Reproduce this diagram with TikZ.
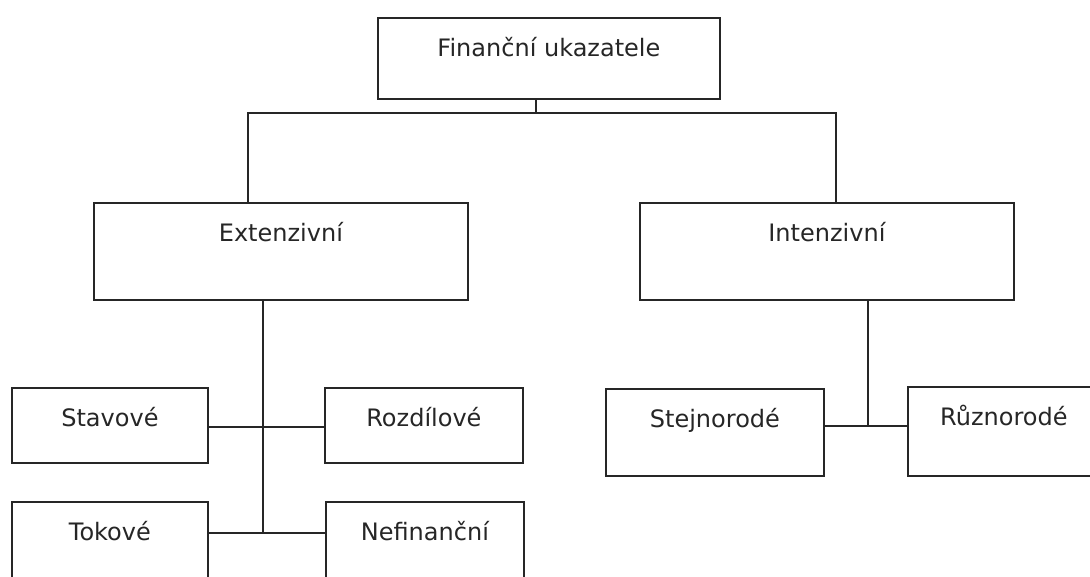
\documentclass[tikz,border=0pt]{standalone}
\usepackage{fontspec}
\setmainfont{DejaVu Sans}

\tikzset{
    box/.style={draw=black!85, line width=1.8pt, anchor=north west, inner sep=0pt,
        text height=39pt, text=black!85, font=\fontsize{24pt}{28pt}\selectfont},
    conn/.style={draw=black!85, line width=1.8pt}
}

\begin{document}
\begin{tikzpicture}[x=1pt, y=1pt]
    \useasboundingbox (0,0) rectangle (1090,-576);
    \clip (0,0) rectangle (1090,-576);

    % Boxes
    \node[box, minimum width=342pt, text depth=42pt] (top) at (377,-17) {Finanční ukazatele};
    \node[box, minimum width=374pt, text depth=58pt] (ext) at (93,-202) {Extenzivní};
    \node[box, minimum width=374pt, text depth=58pt] (int) at (639,-202) {Intenzivní};
    \node[box, minimum width=196pt, text depth=36pt] (stav) at (11,-387) {Stavové};
    \node[box, minimum width=198pt, text depth=36pt] (rozd) at (324,-387) {Rozdílové};
    \node[box, minimum width=196pt, text depth=51pt] (tok) at (11,-501) {Tokové};
    \node[box, minimum width=198pt, text depth=51pt] (nef) at (325,-501) {Nefinanční};
    \node[box, minimum width=218pt, text depth=48pt] (stej) at (605,-388) {Stejnorodé};
    \node[box, minimum width=192pt, text depth=50pt] (ruz) at (907,-386) {Různorodé};

    % Junctions
    \coordinate (j1) at (536,-113);
    \coordinate (j2) at (263,-427);
    \coordinate (j3) at (263,-533);
    \coordinate (j4) at (868,-426);

    % Connectors
    \draw[conn] (top.south -| j1) -- (j1);
    \draw[conn] ([xshift=-33pt]ext.north) |- (j1) -| ([xshift=9pt]int.north);
    \draw[conn] (ext.south -| j2) -- (j3);
    \draw[conn] (stav.east |- j2) -- (rozd.west |- j2);
    \draw[conn] (tok.east |- j3) -- (nef.west |- j3);
    \draw[conn] (int.south -| j4) -- (j4);
    \draw[conn] (stej.east |- j4) -- (ruz.west |- j4);
\end{tikzpicture}
\end{document}
